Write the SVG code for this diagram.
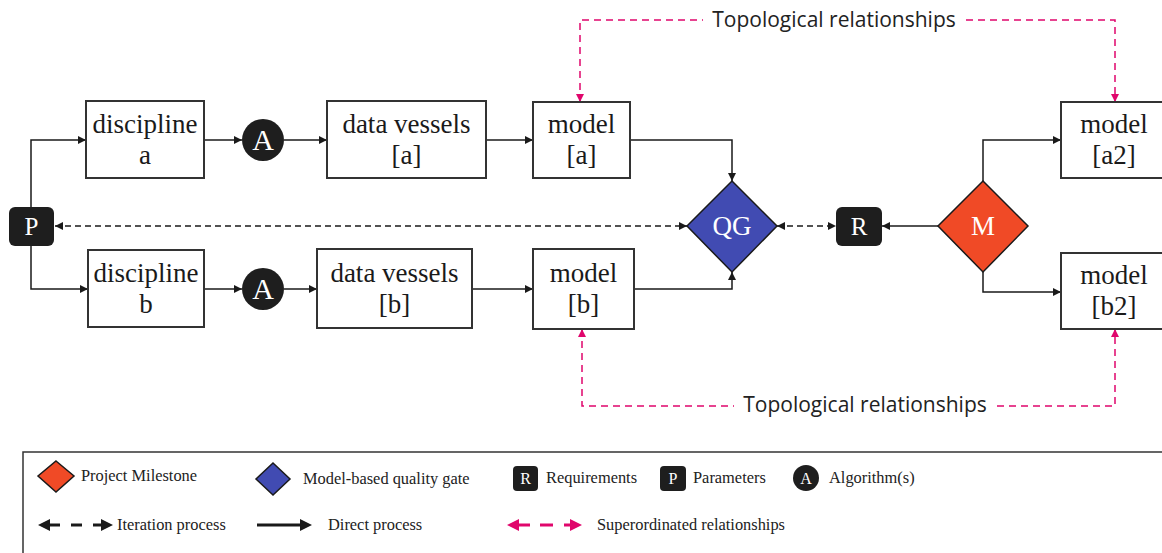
<svg xmlns="http://www.w3.org/2000/svg" width="1162" height="553" viewBox="0 0 1162 553">
<style>
.box{fill:#fff;stroke:#333;stroke-width:2}
.t{font-family:"Liberation Serif","Times New Roman",serif;font-size:27px;fill:#1a1a1a;text-anchor:middle}
.w{font-family:"Liberation Serif","Times New Roman",serif;fill:#fff;text-anchor:middle}
.dark{fill:#1e1e1e}
.c{fill:none;stroke:#1a1a1a;stroke-width:1.5}
.d{fill:none;stroke:#1a1a1a;stroke-width:1.5;stroke-dasharray:6 4}
.p{fill:none;stroke:#e0066c;stroke-width:1.5;stroke-dasharray:7 5}
.topo{font-family:"Open Sans","Noto Sans",sans-serif;font-size:21px;fill:#222;text-anchor:middle}
.lg{font-family:"Liberation Serif","Times New Roman",serif;font-size:16.4px;fill:#222}
</style>
<defs>
<marker id="ak" viewBox="0 0 10 10" refX="10" refY="5" markerWidth="8" markerHeight="8" markerUnits="userSpaceOnUse" orient="auto-start-reverse"><path d="M0,0 L10,5 L0,10 Z" fill="#1a1a1a"/></marker>
<marker id="ap" viewBox="0 0 10 10" refX="10" refY="5" markerWidth="8" markerHeight="8" markerUnits="userSpaceOnUse" orient="auto-start-reverse"><path d="M0,0 L10,5 L0,10 Z" fill="#e0066c"/></marker>
</defs>

<g id="connectors">
<path class="c" d="M31,207 V140 H86" marker-end="url(#ak)"/>
<path class="c" d="M31,246 V289 H88" marker-end="url(#ak)"/>
<path class="c" d="M204,140 H242" marker-end="url(#ak)"/>
<path class="c" d="M204,289 H242" marker-end="url(#ak)"/>
<path class="c" d="M284,140 H327" marker-end="url(#ak)"/>
<path class="c" d="M284,289 H317" marker-end="url(#ak)"/>
<path class="c" d="M486,140 H533" marker-end="url(#ak)"/>
<path class="c" d="M472,289 H533" marker-end="url(#ak)"/>
<path class="c" d="M630,140 H732 V181" marker-end="url(#ak)"/>
<path class="c" d="M634,289 H732 V272" marker-end="url(#ak)"/>
<path class="d" d="M55,226 H687" marker-start="url(#ak)" marker-end="url(#ak)"/>
<path class="d" d="M777,226 H836" marker-start="url(#ak)" marker-end="url(#ak)"/>
<path class="c" d="M938,226 H882" marker-end="url(#ak)"/>
<path class="c" d="M983,181 V140 H1061" marker-end="url(#ak)"/>
<path class="c" d="M983,272 V292 H1061" marker-end="url(#ak)"/>
<path class="p" d="M580,102 V20 H703" marker-start="url(#ap)"/>
<path class="p" d="M966,20 H1115 V102" marker-end="url(#ap)"/>
<path class="p" d="M582,329 V406 H734" marker-start="url(#ap)"/>
<path class="p" d="M997,406 H1115 V329" marker-end="url(#ap)"/>
<text class="topo" x="834" y="27">Topological relationships</text>
<text class="topo" x="865" y="412">Topological relationships</text>
</g>

<g id="P"><rect class="dark" x="9" y="207" width="45" height="39" rx="6"/><text class="w" x="31.5" y="235" font-size="25">P</text></g>
<g id="disc-a"><rect class="box" x="86" y="101" width="118" height="77"/><text class="t" x="145" y="133">discipline</text><text class="t" x="145" y="164">a</text></g>
<g id="disc-b"><rect class="box" x="88" y="250" width="116" height="77"/><text class="t" x="146" y="282">discipline</text><text class="t" x="146" y="313">b</text></g>
<g id="A-a"><circle class="dark" cx="263" cy="140" r="21"/><text class="w" x="263" y="150" font-size="30">A</text></g>
<g id="A-b"><circle class="dark" cx="263" cy="289" r="21"/><text class="w" x="263" y="299" font-size="30">A</text></g>
<g id="dv-a"><rect class="box" x="327" y="101" width="159" height="77"/><text class="t" x="406.5" y="133">data vessels</text><text class="t" x="406.5" y="164">[a]</text></g>
<g id="dv-b"><rect class="box" x="317" y="249" width="155" height="79"/><text class="t" x="394.5" y="282">data vessels</text><text class="t" x="394.5" y="313">[b]</text></g>
<g id="model-a"><rect class="box" x="533" y="102" width="97" height="76"/><text class="t" x="581.5" y="133">model</text><text class="t" x="581.5" y="164">[a]</text></g>
<g id="model-b"><rect class="box" x="533" y="249" width="101" height="80"/><text class="t" x="583.5" y="282">model</text><text class="t" x="583.5" y="313">[b]</text></g>
<g id="QG"><path d="M732,181 L777,226 L732,272 L687,226 Z" fill="#414bb2" stroke="#1a1a1a" stroke-width="1.5"/><text class="w" x="732" y="235" font-size="27">QG</text></g>
<g id="R"><rect class="dark" x="836" y="207" width="46" height="39" rx="6"/><text class="w" x="859" y="235" font-size="25">R</text></g>
<g id="M"><path d="M983,181 L1028,226 L983,272 L938,226 Z" fill="#f04a26" stroke="#1a1a1a" stroke-width="1.5"/><text class="w" x="983" y="235" font-size="27">M</text></g>
<g id="model-a2"><rect class="box" x="1061" y="102" width="110" height="76"/><text class="t" x="1114" y="133">model</text><text class="t" x="1114" y="164">[a2]</text></g>
<g id="model-b2"><rect class="box" x="1061" y="253" width="110" height="76"/><text class="t" x="1114" y="284">model</text><text class="t" x="1114" y="315">[b2]</text></g>

<g id="legend">
<rect x="23" y="452" width="1150" height="120" fill="none" stroke="#333" stroke-width="1.5"/>
<path d="M56,461 L74,476 L56,492 L38,476 Z" fill="#f04a26" stroke="#1a1a1a" stroke-width="1.5"/>
<text class="lg" x="81" y="481">Project Milestone</text>
<path d="M273,463 L290,479 L273,495 L256,479 Z" fill="#414bb2" stroke="#1a1a1a" stroke-width="1.5"/>
<text class="lg" x="303" y="484">Model-based quality gate</text>
<rect class="dark" x="513" y="466" width="25" height="25" rx="4"/><text class="w" x="525.5" y="484" font-size="16">R</text>
<text class="lg" x="546" y="483">Requirements</text>
<rect class="dark" x="660" y="466" width="26" height="25" rx="4"/><text class="w" x="673" y="484" font-size="16">P</text>
<text class="lg" x="693" y="483">Parameters</text>
<circle class="dark" cx="806" cy="478" r="13"/><text class="w" x="806" y="484" font-size="16">A</text>
<text class="lg" x="829" y="483">Algorithm(s)</text>
<g stroke="#1a1a1a" stroke-width="3" fill="#1a1a1a">
<line x1="46" y1="525" x2="60" y2="525"/><path d="M38,525 L50,519 L50,531 Z" stroke="none"/>
<line x1="71" y1="525" x2="82" y2="525"/>
<line x1="93" y1="525" x2="106" y2="525"/><path d="M113,525 L101,519 L101,531 Z" stroke="none"/>
<line x1="257" y1="525" x2="304" y2="525"/><path d="M312,525 L300,519 L300,531 Z" stroke="none"/>
</g>
<text class="lg" x="117" y="530">Iteration process</text>
<text class="lg" x="328" y="530">Direct process</text>
<g stroke="#e0066c" stroke-width="3" fill="#e0066c">
<line x1="515" y1="525" x2="530" y2="525"/><path d="M507,525 L519,519 L519,531 Z" stroke="none"/>
<line x1="540" y1="525" x2="553" y2="525"/>
<line x1="564" y1="525" x2="575" y2="525"/><path d="M582,525 L570,519 L570,531 Z" stroke="none"/>
</g>
<text class="lg" x="597" y="530">Superordinated relationships</text>
</g>
</svg>
